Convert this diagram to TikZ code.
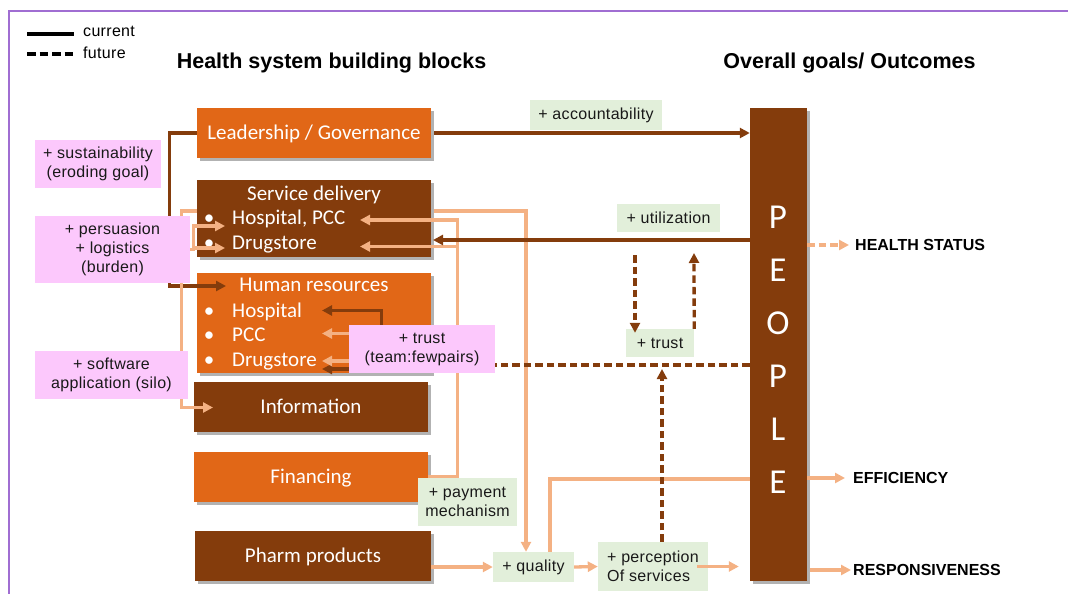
\documentclass[tikz,border=0pt]{standalone}
\usepackage{fontspec}
\setmainfont{Liberation Sans}
\newfontfamily\blockfont{Carlito}
\newfontfamily\notefont[LetterSpace=2]{Liberation Sans}
\usetikzlibrary{arrows.meta,shadows}

\definecolor{brn}{RGB}{132,60,12}
\definecolor{org}{RGB}{225,103,23}
\definecolor{lor}{RGB}{244,177,131}
\definecolor{pnk}{RGB}{252,200,252}
\definecolor{grn}{RGB}{226,239,218}
\definecolor{frm}{RGB}{160,110,210}

\pgfdeclarelayer{blocks}
\pgfdeclarelayer{links}
\pgfsetlayers{blocks,links,main}

\tikzset{
  block/.style={rectangle, inner sep=0pt, text=white,
    font=\blockfont\fontsize{21}{25}\selectfont, text height=13.5pt, text depth=0pt,
    drop shadow={shadow xshift=2.5pt, shadow yshift=-3pt, opacity=0.3, fill=black}},
  blocktext/.style={inner sep=0pt, text=white, font=\blockfont\fontsize{21}{25}\selectfont, anchor=base},
  itemtext/.style={blocktext, anchor=base west},
  pinknote/.style={rectangle, fill=pnk, inner sep=0pt, align=center, text=black!90,
    font=\notefont\fontsize{16}{19}\selectfont},
  greennote/.style={pinknote, fill=grn},
  heading/.style={inner sep=0pt, anchor=base, font=\bfseries\fontsize{21.5}{26}\selectfont},
  outcome/.style={inner sep=0pt, anchor=west, font=\bfseries\fontsize{16}{19}\selectfont},
  legendtext/.style={inner sep=0pt, anchor=west, font=\notefont\fontsize{16}{18}\selectfont},
  link/.style={line width=3.3pt},
  darklink/.style={link, draw=brn},
  lightlink/.style={link, draw=lor},
  future/.style={dash pattern=on 7.5pt off 4pt},
  arrowed/.style={-{Triangle[length=10pt,width=10pt]}},
}

\begin{document}
\begin{tikzpicture}[x=1pt,y=-1pt]
\useasboundingbox (0,0) rectangle (1068,594);

% frame
\coordinate (fTL) at (9,11);
\coordinate (fTR) at (1068,11);
\coordinate (fBL) at (9,594);
\draw[frm, line width=1.5pt] (fTR) -- (fTL) -- (fBL);

% legend
\coordinate (lgA) at (27,34);
\coordinate (lgB) at (74,34);
\coordinate (lgC) at (27,54);
\coordinate (lgD) at (74,54);
\draw[black, line width=3.3pt] (lgA) -- (lgB);
\draw[black, line width=3.3pt, dash pattern=on 8.5pt off 4pt] (lgC) -- (lgD);
\node[legendtext] (lgCur) at (83,31) {current};
\node[legendtext] (lgFut) at (83,53) {future};

% headings
\node[heading] (ttlL) at (331.5,69) {Health system building blocks};
\node[heading] (ttlR) at (849.5,69) {Overall goals/ Outcomes};

% building blocks
\begin{pgfonlayer}{blocks}
\node[block, fill=org, minimum width=234pt, minimum height=50pt] (lead) at (314,133) {Leadership / Governance};
\node[block, fill=brn, minimum width=234pt, minimum height=77pt] (sd) at (314,218.5) {};
\node[block, fill=org, minimum width=234pt, minimum height=100pt] (hr) at (314,323) {};
\node[block, fill=brn, minimum width=234pt, minimum height=50pt] (info) at (311,407) {Information};
\node[block, fill=org, minimum width=234pt, minimum height=50pt] (fin) at (311,477) {Financing};
\node[block, fill=brn, minimum width=236pt, minimum height=50pt] (pharm) at (313,556) {Pharm products};
\node[block, fill=brn, minimum width=57pt, minimum height=473pt] (people) at (778.5,344.5) {};

\node[blocktext] (sdTitle) at (314,200) {Service delivery};
\node[blocktext] (sdB1) at (209,224.3) {\textbullet};
\node[itemtext] (sdHos) at (232,224.3) {Hospital, PCC};
\node[blocktext] (sdB2) at (209,249) {\textbullet};
\node[itemtext] (sdDrug) at (232,249) {Drugstore};

\node[blocktext] (hrTitle) at (314,291.7) {Human resources};
\node[blocktext] (hrB1) at (209,317) {\textbullet};
\node[itemtext] (hrHos) at (232,317) {Hospital};
\node[blocktext] (hrB2) at (209,341.7) {\textbullet};
\node[itemtext] (hrPcc) at (232,341.7) {PCC};
\node[blocktext] (hrB3) at (209,366) {\textbullet};
\node[itemtext] (hrDrug) at (232,366) {Drugstore};

\node[inner sep=0pt, text=white, align=center, font=\blockfont\fontsize{35}{53}\selectfont] (peopleWord) at (778,350) {P\\E\\O\\P\\L\\E};
\end{pgfonlayer}

% notes
\node[pinknote, minimum width=126pt, minimum height=48pt] (sust) at (98,164) {+ sustainability\\(eroding goal)};
\node[pinknote, minimum width=155pt, minimum height=67pt] (persu) at (112.5,249.5) {+ persuasion\\+ logistics\\(burden)};
\node[pinknote, minimum width=153pt, minimum height=48pt] (soft) at (111.5,375) {+ software\\application (silo)};
\node[pinknote, minimum width=146pt, minimum height=48pt] (ptrust) at (422,349) {+ trust\\(team:fewpairs)};

\node[greennote, minimum width=132pt, minimum height=30pt] (acc) at (596,115) {+ accountability};
\node[greennote, minimum width=103pt, minimum height=28pt] (util) at (668.5,218) {+ utilization};
\node[greennote, minimum width=68pt, minimum height=28pt] (gtrust) at (660,343) {+ trust};
\node[greennote, minimum width=99pt, minimum height=48pt] (pay) at (467.5,502) {+ payment\\mechanism};
\node[greennote, minimum width=81pt, minimum height=30pt] (qual) at (533.5,567) {+ quality};
\node[greennote, minimum width=110pt, minimum height=49pt, align=left] (percep) at (653,566.5) {+ perception\\Of services};

% outcomes
\node[outcome] (health) at (855,245) {HEALTH STATUS};
\node[outcome] (eff) at (853,478) {EFFICIENCY};
\node[outcome] (resp) at (853,570) {RESPONSIVENESS};

% free ends of the links
\coordinate (hrIn) at (226,286);
\coordinate (sdHosL) at (225,226);
\coordinate (sdDrugL) at (225,248);
\coordinate (infoIn) at (213,407.5);
\coordinate (sdHosR) at (360,220);
\coordinate (sdDrugR) at (360,246.5);
\coordinate (sdUtil) at (433,240);
\coordinate (hrHosR) at (322,310.5);
\coordinate (hrPccR) at (322,333.5);
\coordinate (hrDrugR) at (322,361);
\coordinate (hrDrugR2) at (322,369);
\coordinate (loopDown) at (635,255);
\coordinate (loopUp) at (694,253);
\coordinate (trustLink) at (495,365);
\coordinate (perceptTip) at (662,369);
\coordinate (effBend) at (550,479);

\begin{pgfonlayer}{links}
% current links
\draw[darklink, arrowed, shorten <=3pt] (lead.east) -- (lead.east -| people.west);
\draw[darklink, arrowed] (lead.west) -- ++(-27,0) |- (hrIn);
\draw[lightlink, arrowed] ([yshift=7.5pt]sd.west) -- ++(-15,0) |- (infoIn);
\draw[lightlink, arrowed] (persu.east) -- ++(3,0) |- (sdHosL);
\draw[lightlink, arrowed] (persu.east) -- ++(3,0) |- (sdDrugL);
\draw[lightlink, arrowed, shorten <=3pt] ([yshift=7.5pt]sd.east) -| ([xshift=-7.5pt]qual.north);
\draw[lightlink, arrowed] (fin.east) -- ++(29.5,0) |- (sdHosR);
\draw[lightlink, arrowed] (fin.east) -- ++(29.5,0) |- (sdDrugR);
\draw[darklink, arrowed] (people.west |- sdUtil) -- (sdUtil);
\draw[darklink, arrowed] ([xshift=33pt]ptrust.west) |- (hrHosR);
\draw[darklink, arrowed] ([xshift=33pt]ptrust.west) |- (hrDrugR2);
\draw[lightlink, arrowed] (ptrust.west |- hrPccR) -- (hrPccR);
\draw[lightlink, arrowed] (ptrust.west |- hrDrugR) -- (hrDrugR);
\draw[lightlink, arrowed] (pharm.east |- qual.west) -- (qual.west);
\draw[lightlink, arrowed] (qual.east) -- (percep.west);
\draw[lightlink] ([xshift=16.5pt]qual.north) |- (people.west |- effBend);
% future links
\draw[darklink, future] (people.west |- trustLink) -- (trustLink);
\draw[darklink, future, arrowed] (perceptTip |- percep.north) -- (perceptTip);
\draw[darklink, future, arrowed] (gtrust.north east) -- (loopUp);
\end{pgfonlayer}

\draw[darklink, future, arrowed, shorten >=-4pt] (loopDown) -- (loopDown |- gtrust.north);
\draw[lightlink, arrowed, shorten >=11pt] ([xshift=-11pt]percep.east) -- (people.west |- percep.east);

% outcome links
\draw[lightlink, future, arrowed, shorten >=6pt] (people.east |- health.west) -- (health.west);
\draw[lightlink, arrowed, shorten >=8pt] (people.east |- eff.west) -- (eff.west);
\draw[lightlink, arrowed, shorten <=3pt, shorten >=2pt] (people.east |- resp.west) -- (resp.west);
\end{tikzpicture}
\end{document}
